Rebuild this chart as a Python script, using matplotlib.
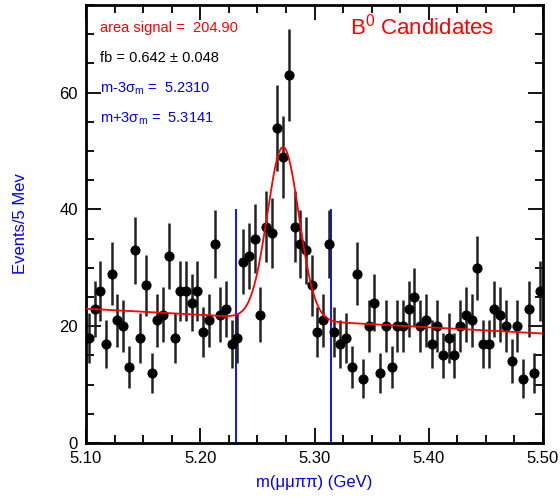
import matplotlib
matplotlib.use('Agg')
import matplotlib.pyplot as plt
import numpy as np
from matplotlib.ticker import MultipleLocator

plt.rcParams['font.family'] = ['Liberation Sans', 'DejaVu Sans']
plt.rcParams['mathtext.fontset'] = 'custom'
plt.rcParams['mathtext.rm'] = 'Liberation Sans'

# event counts per 5 MeV bin, 5.10 - 5.50 GeV
counts = [18, 23, 26, 17, 29, 21, 20, 13, 33, 18,
          27, 12, 21, 22, 32, 18, 26, 26, 24, 26,
          19, 21, 34, 22, 23, 17, 18, 31, 32, 35,
          22, 37, 36, 54, 49, 63, 37, 34, 33, 27,
          19, 21, 34, 19, 17, 18, 13, 29, 11, 20,
          24, 12, 20, 13, 20, 20, 23, 25, 20, 21,
          17, 20, 15, 18, 15, 20, 22, 21, 30, 17,
          17, 23, 22, 20, 14, 20, 11, 23, 12, 26]
m_lo, m_hi, bin_w = 5.10, 5.50, 0.005

# fit result: gaussian + linear background
area_signal = 204.90
mean = 5.27255
sigma = 0.01385
bkg_at_lo = 23.0
bkg_at_hi = 18.75
m_minus = 5.2310
m_plus = 5.3141

centers = m_lo + bin_w * (np.arange(len(counts)) + 0.5)
counts = np.array(counts, dtype=float)
errs = np.sqrt(counts)

fig = plt.figure(figsize=(5.6, 4.98), dpi=100)
ax = fig.add_axes([86/560, 1 - 443/498, 457/560, 438/498])

ax.errorbar(centers, counts, yerr=errs, fmt='o', color='black', ecolor='#222222',
            markersize=6.3, elinewidth=1.8, capsize=0, zorder=3)

xf = np.linspace(m_lo, m_hi, 800)
bkg = bkg_at_lo + (bkg_at_hi - bkg_at_lo) * (xf - m_lo) / (m_hi - m_lo)
amp = area_signal * bin_w / (sigma * np.sqrt(2 * np.pi))
ax.plot(xf, bkg + amp * np.exp(-0.5 * ((xf - mean) / sigma) ** 2), color='red', lw=1.3, zorder=4)

ax.vlines([m_minus, m_plus], 0, 40, colors='blue', lw=1.3, zorder=2)

ax.set_xlim(m_lo, m_hi)
ax.set_ylim(0, 75)
ax.xaxis.set_major_locator(MultipleLocator(0.1))
ax.xaxis.set_minor_locator(MultipleLocator(0.025))
ax.yaxis.set_major_locator(MultipleLocator(20))
ax.yaxis.set_minor_locator(MultipleLocator(5))
ax.set_xticklabels(['%.2f' % v for v in ax.get_xticks()])
ax.tick_params(which='both', direction='in', top=True, right=True, width=1.3, labelsize=12, pad=6)
ax.tick_params(which='major', length=11)
ax.tick_params(which='minor', length=6)
for s in ax.spines.values():
    s.set_linewidth(2)

ax.set_xlabel('m(μμππ) (GeV)', color='blue', fontsize=12, labelpad=6)
ax.set_ylabel('Events/5 Mev', color='blue', fontsize=12, labelpad=22)

tx = 100/560
fig.text(tx, 1 - 28/498, 'area signal =  %.2f' % area_signal, color='red', fontsize=10.5, va='center')
fig.text(tx, 1 - 58/498, 'fb = 0.642 ± 0.048', color='black', fontsize=10.5, va='center')
fig.text(tx, 1 - 89/498, r'm-3σ$_{\rm m}$ =  %.4f' % m_minus, color='blue', fontsize=10.5, va='center')
fig.text(tx, 1 - 119/498, r'm+3σ$_{\rm m}$ =  %.4f' % m_plus, color='blue', fontsize=10.5, va='center')
fig.text(350/560, 1 - 27/498, r'B$^{\rm 0}$ Candidates', color='red', fontsize=16, va='center')

fig.savefig('out.png', dpi=100)
